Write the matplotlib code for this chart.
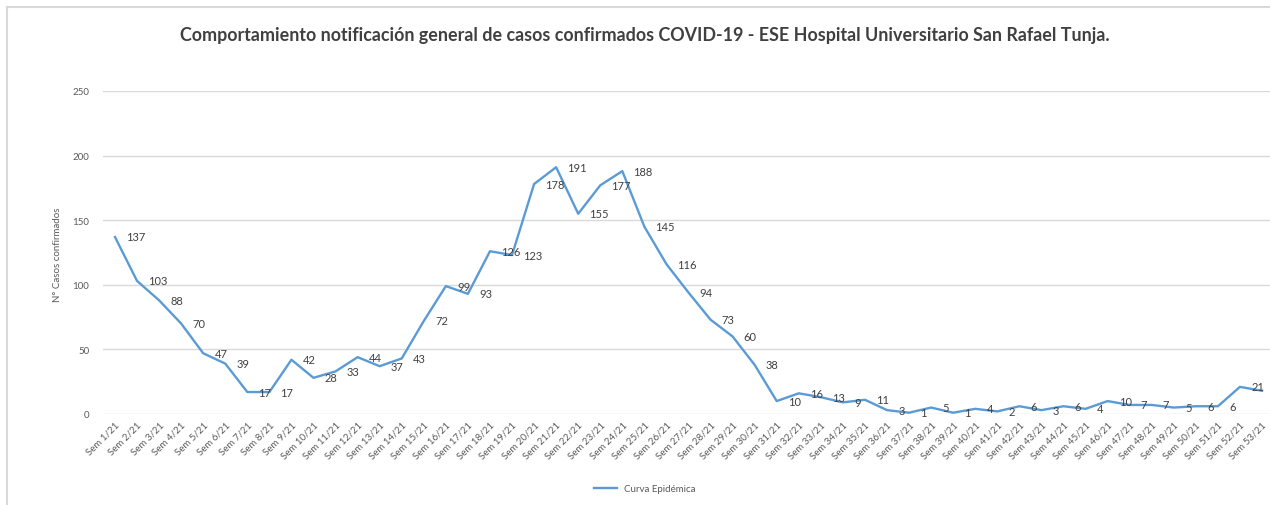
import matplotlib.pyplot as plt
from matplotlib.lines import Line2D
import numpy as np

weeks = [f"Sem {i}/21" for i in range(1, 54)]
casos = [137, 103, 88, 70, 47, 39, 17, 17, 42, 28, 33, 44, 37, 43,
         72, 99, 93, 126, 123, 178, 191, 155, 177, 188, 145, 116, 94, 73, 60, 38,
         10, 16, 13, 9, 11, 3, 1, 5, 1, 4, 2, 6, 3, 6, 4, 10, 7, 7, 5, 6, 6, 21, 18]
yticks = [0, 50, 100, 150, 200, 250]

plt.rcParams['font.family'] = ['Lato', 'DejaVu Sans']

W, H = 1270, 506
fig = plt.figure(figsize=(W / 100, H / 100), dpi=100)

# axes box in pixels: left 103, right 1270, y=0 at 415, y=250 at 92
ax = fig.add_axes([103 / W, 1 - 415 / H, (W - 103) / W, (415 - 92) / H])
x = np.arange(len(casos))
line, = ax.plot(x, casos, color="#5B9BD5", lw=1.7, label="Curva Epidémica")

for xi, v in zip(x, casos):
    ax.annotate(str(v), (xi, v), xytext=(8, 0), textcoords="offset points",
                ha="left", va="center", fontsize=8, color="#404040",
                annotation_clip=False)

spacing = 22.1
ax.set_xlim(-(115 - 103) / spacing, 52 + (1270 - 1262) / spacing)
ax.set_ylim(0, 250)
ax.set_yticks(yticks)
ax.set_xticks(x)
ax.set_xticklabels(weeks, rotation=45, ha="right", va="top", rotation_mode="anchor",
                   fontsize=7, color="#595959")
ax.tick_params(axis="y", labelsize=7, labelcolor="#595959", length=0, pad=10)
ax.tick_params(axis="x", length=0, pad=4)
ax.grid(axis="y", color="#d9d9d9", lw=1)
ax.set_axisbelow(True)
for s in ax.spines.values():
    s.set_visible(False)

fig.text(57 / W, 1 - 255 / H, "N° Casos confirmados", rotation=90, ha="center", va="center",
         fontsize=7, color="#595959")

fig.text(645 / W, 1 - 35 / H,
         "Comportamiento notificación general de casos confirmados COVID-19 - ESE Hospital Universitario San Rafael Tunja.",
         ha="center", va="center", fontsize=12.9, fontweight="bold", color="#404040")

fig.legend(handles=[line], loc="center", bbox_to_anchor=(645 / W, 1 - 490 / H),
           frameon=False, fontsize=7, handlelength=2.3, labelcolor="#595959")

# outer chart frame (top and left edges visible)
fig.add_artist(Line2D([7 / W, 1], [1 - 8 / H, 1 - 8 / H], color="#d9d9d9", lw=1.5))
fig.add_artist(Line2D([7 / W, 7 / W], [0, 1 - 8 / H], color="#d9d9d9", lw=1.5))

fig.savefig("out.png", dpi=100)
